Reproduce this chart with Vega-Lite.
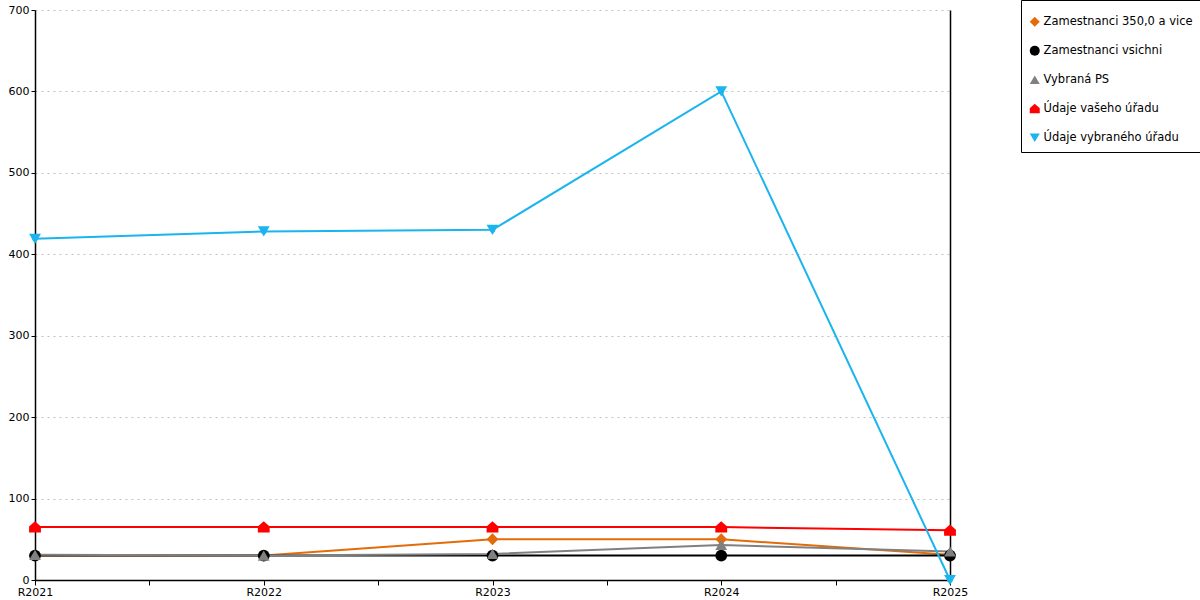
{
  "$schema": "https://vega.github.io/schema/vega-lite/v6.json",
  "width": 915,
  "height": 570,
  "autosize": {"type": "none"},
  "padding": {"left": 35, "top": 10, "right": 250, "bottom": 20},
  "background": "white",
  "data": {
    "values": [
      {"rok": 2021, "serie": "Zamestnanci 350,0 a vice", "hodnota": 30},
      {"rok": 2022, "serie": "Zamestnanci 350,0 a vice", "hodnota": 30},
      {"rok": 2023, "serie": "Zamestnanci 350,0 a vice", "hodnota": 50},
      {"rok": 2024, "serie": "Zamestnanci 350,0 a vice", "hodnota": 50},
      {"rok": 2025, "serie": "Zamestnanci 350,0 a vice", "hodnota": 31},
      {"rok": 2021, "serie": "Zamestnanci vsichni", "hodnota": 30},
      {"rok": 2022, "serie": "Zamestnanci vsichni", "hodnota": 30},
      {"rok": 2023, "serie": "Zamestnanci vsichni", "hodnota": 30},
      {"rok": 2024, "serie": "Zamestnanci vsichni", "hodnota": 30},
      {"rok": 2025, "serie": "Zamestnanci vsichni", "hodnota": 30},
      {"rok": 2021, "serie": "Vybraná PS", "hodnota": 31},
      {"rok": 2022, "serie": "Vybraná PS", "hodnota": 30},
      {"rok": 2023, "serie": "Vybraná PS", "hodnota": 32},
      {"rok": 2024, "serie": "Vybraná PS", "hodnota": 43},
      {"rok": 2025, "serie": "Vybraná PS", "hodnota": 35},
      {"rok": 2021, "serie": "Údaje vašeho úřadu", "hodnota": 65},
      {"rok": 2022, "serie": "Údaje vašeho úřadu", "hodnota": 65},
      {"rok": 2023, "serie": "Údaje vašeho úřadu", "hodnota": 65},
      {"rok": 2024, "serie": "Údaje vašeho úřadu", "hodnota": 65},
      {"rok": 2025, "serie": "Údaje vašeho úřadu", "hodnota": 61},
      {"rok": 2021, "serie": "Údaje vybraného úřadu", "hodnota": 419},
      {"rok": 2022, "serie": "Údaje vybraného úřadu", "hodnota": 428},
      {"rok": 2023, "serie": "Údaje vybraného úřadu", "hodnota": 430},
      {"rok": 2024, "serie": "Údaje vybraného úřadu", "hodnota": 600},
      {"rok": 2025, "serie": "Údaje vybraného úřadu", "hodnota": 0}
    ]
  },
  "encoding": {
    "x": {
      "field": "rok",
      "type": "quantitative",
      "scale": {"domain": [2021, 2025], "nice": false, "zero": false},
      "axis": {
        "title": null,
        "values": [2021, 2021.5, 2022, 2022.5, 2023, 2023.5, 2024, 2024.5, 2025],
        "labelExpr": "datum.value % 1 == 0 ? 'R' + datum.value : ''",
        "grid": false,
        "tickSize": 5,
        "labelPadding": 1,
        "labelFlush": false
      }
    },
    "color": {
      "field": "serie",
      "type": "nominal",
      "sort": null,
      "scale": {
        "domain": ["Zamestnanci 350,0 a vice", "Zamestnanci vsichni", "Vybraná PS", "Údaje vašeho úřadu", "Údaje vybraného úřadu"],
        "range": ["#e36c0a", "#000000", "#808080", "#ff0000", "#1ab4ee"]
      },
      "legend": {
        "title": " ",
        "titleFontSize": 5,
        "titlePadding": 3,
        "orient": "none",
        "legendX": 986,
        "legendY": -10,
        "strokeColor": "#000000",
        "fillColor": "white",
        "padding": 8,
        "rowPadding": 16,
        "labelFontSize": 11.5,
        "labelLimit": 170,
        "labelOffset": 3,
        "symbolSize": 100,
        "symbolStrokeWidth": 0
      }
    },
    "shape": {
      "field": "serie",
      "type": "nominal",
      "scale": {
        "domain": ["Zamestnanci 350,0 a vice", "Zamestnanci vsichni", "Vybraná PS", "Údaje vašeho úřadu", "Údaje vybraného úřadu"],
        "range": ["diamond", "circle", "triangle-up", "M-1,-0.1L0,-1L1,-0.1L1,0.9L-1,0.9Z", "triangle-down"]
      },
      "legend": null
    }
  },
  "layer": [
    {
      "mark": {"type": "line", "strokeWidth": 2},
      "encoding": {
        "shape": {"value": "circle"},
        "y": {
          "field": "hodnota",
          "type": "quantitative",
          "scale": {"domain": [0, 700], "nice": false},
          "axis": {
            "title": null,
            "values": [0, 100, 200, 300, 400, 500, 600, 700],
            "grid": true,
            "gridColor": "#c0c0c0",
            "gridDash": [2, 4],
            "tickSize": 4,
            "labelPadding": 2
          }
        }
      }
    },
    {
      "mark": {"type": "point", "filled": true, "opacity": 1, "size": 140},
      "encoding": {
        "y": {
          "field": "hodnota",
          "type": "quantitative",
          "axis": {"orient": "right", "title": null, "labels": false, "ticks": false, "grid": false}
        }
      }
    }
  ],
  "resolve": {"axis": {"y": "independent"}},
  "config": {
    "font": "DejaVu Sans",
    "view": {"stroke": null},
    "axis": {
      "domainColor": "#000000",
      "tickColor": "#000000",
      "labelColor": "#000000",
      "labelFontSize": 11,
      "domainWidth": 1.5,
      "tickWidth": 1
    }
  }
}
